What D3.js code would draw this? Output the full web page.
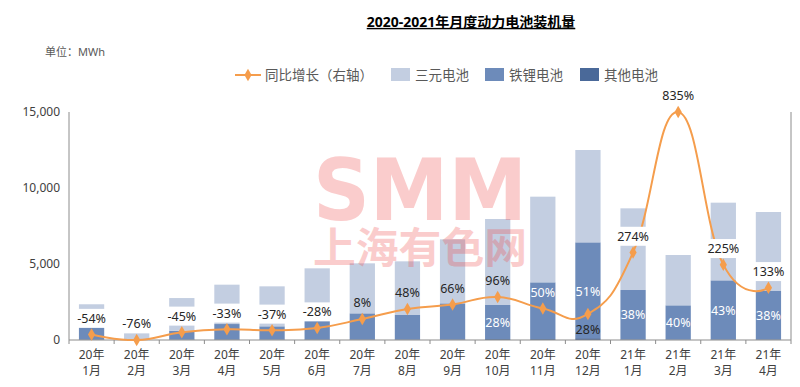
<!DOCTYPE html>
<html>
<head>
<meta charset="utf-8">
<script src="https://cdn.jsdelivr.net/npm/d3@7"></script>
<style>
  body { margin: 0; background: #fff; }
  svg { display: block; font-family: "Noto Sans", "Noto Sans CJK SC", sans-serif; }
</style>
</head>
<body>
<div id="chart"></div>
<script>
// months on the x axis
const categories = ["20年1月", "20年2月", "20年3月", "20年4月", "20年5月", "20年6月", "20年7月", "20年8月",
  "20年9月", "20年10月", "20年11月", "20年12月", "21年1月", "21年2月", "21年3月", "21年4月"];

// installed volume, MWh
const otherValues = [40, 10, 30, 40, 30, 40, 40, 40, 40, 60, 60, 120, 40, 20, 40, 40];
const lfpValues = [810, 50, 570, 1010, 870, 1340, 1714, 1605, 2372, 2243, 3734, 6305, 3249, 2261, 3885, 3184];
const ncmValues = [1500, 580, 2160, 2590, 2630, 3335, 3290, 3530, 4211, 5658, 5636, 6075, 5373, 3311, 5110, 5197];

// year on year growth, % (right axis)
const growthValues = [-54, -76, -45, -33, -37, -28, 8, 48, 66, 96, 50, 28, 274, 835, 225, 133];

// share labels written inside the LFP bars
const lfpShareLabels = [null, null, null, null, null, null, null, null, null, "28%", null, "51%", "38%", "40%", "43%", "38%"];

const yTicks = [0, 5000, 10000, 15000];
const seriesNames = ["其他电池", "铁锂电池", "三元电池"];

const W = 800, H = 387;
const margin = { top: 112, right: 9, bottom: 47, left: 69 },
  width = W - margin.left - margin.right,
  height = H - margin.top - margin.bottom;

const svg = d3.select("#chart").append("svg")
  .attr("width", W)
  .attr("height", H);

const g = svg.append("g")
  .attr("transform", `translate(${margin.left},${margin.top})`);

const table = categories.map((c, i) => ({
  month: c,
  "其他电池": otherValues[i],
  "铁锂电池": lfpValues[i],
  "三元电池": ncmValues[i],
  growth: growthValues[i],
  share: lfpShareLabels[i]
}));

const stacked = d3.stack().keys(seriesNames)(table);

// scales
const x = d3.scaleBand()
  .domain(categories)
  .range([0, width])
  .paddingInner(0.44)
  .paddingOuter(0.22);

const y = d3.scaleLinear()
  .domain([0, 15000])
  .range([height, 0]);

const yR = d3.scaleLinear()
  .domain(d3.extent(growthValues))
  .range([height, 0]);

const color = d3.scaleOrdinal()
  .domain(seriesNames)
  .range(["#4a6999", "#6d8bba", "#c3cee1"]);

const orange = "#f59d4c";
const axisColor = "#8c8c8c";

// stacked bars
g.selectAll(".layer")
  .data(stacked)
  .join("g")
  .attr("class", "layer")
  .attr("fill", d => color(d.key))
  .selectAll("rect")
  .data(d => d)
  .join("rect")
  .attr("x", d => x(d.data.month))
  .attr("y", d => y(d[1]))
  .attr("width", x.bandwidth())
  .attr("height", d => y(d[0]) - y(d[1]));

// lfp share labels in the middle of the blue part
const lfpLayer = stacked[1];
g.selectAll(".share")
  .data(lfpLayer.filter(d => d.data.share))
  .join("text")
  .attr("class", "share")
  .attr("x", d => x(d.data.month) + x.bandwidth() / 2)
  .attr("y", d => (y(0) + y(d[1])) / 2)
  .attr("text-anchor", "middle")
  .attr("dy", "0.35em")
  .style("font-size", "12.5px")
  .style("fill", "#fff")
  .text(d => d.data.share);

// axes
g.append("line")
  .attr("x1", 0).attr("x2", 0)
  .attr("y1", 0).attr("y2", height)
  .attr("stroke", axisColor);

g.append("line")
  .attr("x1", width).attr("x2", width)
  .attr("y1", 0).attr("y2", height)
  .attr("stroke", axisColor);

const xAxis = g.append("g")
  .attr("transform", `translate(0,${height})`);

xAxis.append("line")
  .attr("x1", 0).attr("x2", width)
  .attr("stroke", axisColor);

xAxis.selectAll(".tick")
  .data(d3.range(categories.length + 1))
  .join("line")
  .attr("x1", i => i * x.step())
  .attr("x2", i => i * x.step())
  .attr("y1", 0)
  .attr("y2", 4)
  .attr("stroke", axisColor);

const xLab = xAxis.selectAll(".xlab")
  .data(categories)
  .join("text")
  .attr("class", "xlab")
  .attr("x", d => x(d) + x.bandwidth() / 2)
  .attr("text-anchor", "middle")
  .style("font-size", "12px")
  .style("fill", "#404040");

xLab.append("tspan")
  .attr("x", d => x(d) + x.bandwidth() / 2)
  .attr("y", 19)
  .text(d => d.split("年")[0] + "年");

xLab.append("tspan")
  .attr("x", d => x(d) + x.bandwidth() / 2)
  .attr("y", 35)
  .text(d => d.split("年")[1]);

g.selectAll(".ylab")
  .data(yTicks)
  .join("text")
  .attr("class", "ylab")
  .attr("x", -9)
  .attr("y", d => y(d))
  .attr("dy", "0.35em")
  .attr("text-anchor", "end")
  .style("font-size", "12px")
  .style("fill", "#404040")
  .text(d => d3.format(",")(d));

// growth line, smoothed like the office chart
const line = d3.line()
  .x(d => x(d.month) + x.bandwidth() / 2)
  .y(d => yR(d.growth))
  .curve(d3.curveCardinal.tension(-0.35));

g.append("path")
  .datum(table)
  .attr("fill", "none")
  .attr("stroke", orange)
  .attr("stroke-width", 2)
  .attr("d", line);

const diamond = d3.symbol().type(d3.symbolDiamond).size(45);

g.selectAll(".marker")
  .data(table)
  .join("path")
  .attr("class", "marker")
  .attr("transform", d => `translate(${x(d.month) + x.bandwidth() / 2},${yR(d.growth)})`)
  .attr("d", diamond)
  .attr("fill", orange);

// growth labels, boxed in white when they sit over a bar
const labelBelow = ["20年12月"];
const labelWhite = ["20年11月"];

const lab = g.selectAll(".glab")
  .data(table)
  .join("g")
  .attr("class", "glab")
  .attr("transform", d => {
    const off = labelBelow.includes(d.month) ? 16 : -16;
    return `translate(${x(d.month) + x.bandwidth() / 2},${yR(d.growth) + off})`;
  });

lab.append("text")
  .attr("text-anchor", "middle")
  .attr("dy", "0.35em")
  .style("font-size", "12.5px")
  .style("fill", d => labelWhite.includes(d.month) ? "#fff" : "#262626")
  .text(d => d.growth + "%");

lab.filter(d => d.growth < 0 || d.growth > 100)
  .insert("rect", "text")
  .each(function() {
    const bb = this.parentNode.querySelector("text").getBBox();
    d3.select(this)
      .attr("x", bb.x - 2)
      .attr("y", bb.y - 1)
      .attr("width", bb.width + 4)
      .attr("height", bb.height + 2)
      .attr("fill", "#fff");
  });

// watermark
const wm = svg.append("g")
  .attr("fill", "#f04a4a")
  .attr("opacity", 0.28)
  .style("pointer-events", "none");

wm.append("text")
  .attr("x", 313)
  .attr("y", 220)
  .attr("textLength", 214)
  .attr("lengthAdjust", "spacingAndGlyphs")
  .style("font-family", "'DejaVu Sans', sans-serif")
  .style("font-weight", "bold")
  .style("font-size", "86px")
  .text("SMM");

wm.append("text")
  .attr("x", 313)
  .attr("y", 263)
  .attr("textLength", 214)
  .attr("lengthAdjust", "spacingAndGlyphs")
  .style("font-family", "'Noto Sans CJK SC', sans-serif")
  .style("font-weight", "bold")
  .style("font-size", "42px")
  .text("上海有色网");

// title
svg.append("text")
  .attr("x", 471)
  .attr("y", 22)
  .attr("text-anchor", "middle")
  .attr("dy", "0.35em")
  .style("font-size", "14px")
  .style("font-weight", "bold")
  .style("text-decoration", "underline")
  .style("fill", "#000")
  .text("2020-2021年月度动力电池装机量");

svg.append("text")
  .attr("x", 45)
  .attr("y", 52)
  .attr("dy", "0.35em")
  .style("font-size", "11px")
  .style("fill", "#595959")
  .text("单位：MWh");

// legend
const legend = svg.append("g")
  .attr("transform", "translate(235,75)");

legend.append("line")
  .attr("x1", 0).attr("x2", 26)
  .attr("stroke", orange)
  .attr("stroke-width", 2);

legend.append("path")
  .attr("transform", "translate(13,0)")
  .attr("d", diamond)
  .attr("fill", orange);

legend.append("text")
  .attr("x", 30)
  .attr("dy", "0.35em")
  .style("font-size", "13.5px")
  .style("fill", "#595959")
  .text("同比增长（右轴）");

const legendItems = [["三元电池", 156], ["铁锂电池", 250], ["其他电池", 345]];
legendItems.forEach(([key, lx]) => {
  legend.append("rect")
    .attr("x", lx)
    .attr("y", -7)
    .attr("width", 19)
    .attr("height", 13)
    .attr("fill", color(key));

  legend.append("text")
    .attr("x", lx + 24)
    .attr("dy", "0.35em")
    .style("font-size", "13.5px")
    .style("fill", "#595959")
    .text(key);
});
</script>
</body>
</html>
